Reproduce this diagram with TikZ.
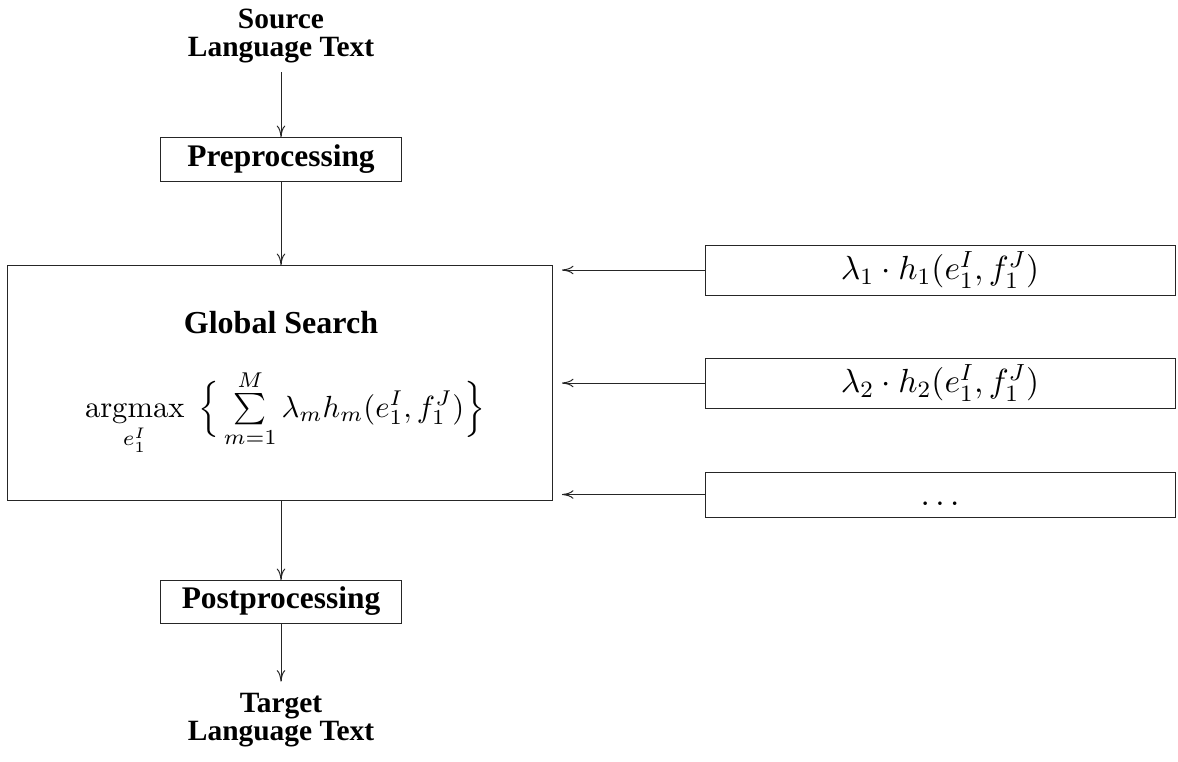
\RequirePackage{fix-cm}
\documentclass[tikz,border=0pt]{standalone}
\usepackage{amsmath}
\usepackage[no-math]{fontspec}
\setmainfont{Liberation Serif}
\usetikzlibrary{arrows.meta}
\begin{document}
\begin{tikzpicture}[x=0.35pt,y=-0.35pt,
  box/.style={draw=black!85,inner sep=0pt,outer sep=0pt,line width=0.35pt},
  arr/.style={-{To[length=4pt,width=3pt]},draw=black!85,line width=0.35pt},
]
\useasboundingbox (0,0) rectangle (1178,762);
% input / output texts
\node[inner sep=2.5pt] (src) at (281,36.4)
  {\fontsize{10.3}{9.8}\selectfont\bfseries\begin{tabular}{@{}c@{}}Source\\Language Text\end{tabular}};
\node[inner sep=3.6pt] (tgt) at (281,720.4)
  {\fontsize{10.3}{9.8}\selectfont\bfseries\begin{tabular}{@{}c@{}}Target\\Language Text\end{tabular}};
% boxes
\node[box,minimum width=84.7pt,minimum height=15.4pt,font=\fontsize{11}{13}\selectfont\bfseries] (pre) at (281,159) {Preprocessing};
\node[box,minimum width=84.7pt,minimum height=15.05pt,font=\fontsize{11}{13}\selectfont\bfseries] (post) at (281,601.5) {Postprocessing};
\node[box,minimum width=191.1pt,minimum height=82.25pt] (glob) at (280,382.5) {};
\node[anchor=base,inner sep=0pt,font=\fontsize{11.2}{13}\selectfont\bfseries] (gs) at (281,333) {Global Search};
\node[anchor=base,inner sep=0pt,font=\fontsize{10.7}{13}\selectfont] (fm) at (285,417)
  {$\operatorname*{argmax}\limits_{e_1^I}\;\Big\{\sum\limits_{m=1}^{M}\lambda_m h_m(e_1^I,f_1^J)\Big\}$};
% feature functions
\node[box,minimum width=164.5pt,minimum height=17.5pt,font=\fontsize{11.7}{14}\selectfont] (r1) at (940,270) {$\lambda_1\cdot h_1(e_1^I,f_1^J)$};
\node[box,minimum width=164.5pt,minimum height=17.5pt,font=\fontsize{11.7}{14}\selectfont] (r2) at (940,383) {$\lambda_2\cdot h_2(e_1^I,f_1^J)$};
\node[box,minimum width=164.5pt,minimum height=15.75pt,font=\fontsize{11.7}{14}\selectfont] (r3) at (940,494.5) {\raisebox{-4pt}[0pt][0pt]{$\ldots$}};
% connectors
\draw[arr] (src.south) -- (pre.north);
\draw[arr] (pre.south) -- (pre.south |- glob.north);
\draw[arr] (pre.south |- glob.south) -- (post.north);
\draw[arr] (post.south) -- (tgt.north);
\draw[arr,shorten >=3.15pt] (r1.west) -- (glob.east |- r1.west);
\draw[arr,shorten >=3.15pt] (r2.west) -- (glob.east |- r2.west);
\draw[arr,shorten >=3.15pt] (r3.west) -- (glob.east |- r3.west);
\end{tikzpicture}
\end{document}
